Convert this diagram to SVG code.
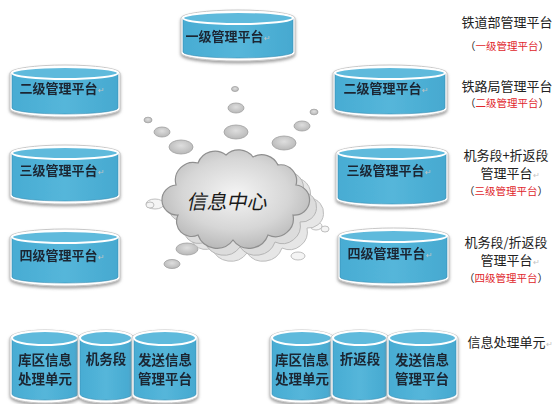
<svg xmlns="http://www.w3.org/2000/svg" width="559" height="404" viewBox="0 0 559 404">
  <defs>
    <filter id="shadow" x="-10%" y="-10%" width="120%" height="130%">
      <feDropShadow dx="0" dy="2" stdDeviation="1.5" flood-color="#7a7a7a" flood-opacity="0.7"/>
    </filter>
    <linearGradient id="bodyGrad" x1="0" y1="0" x2="1" y2="0">
      <stop offset="0" stop-color="#48acd3"/>
      <stop offset="0.5" stop-color="#55b6da"/>
      <stop offset="1" stop-color="#46a9d0"/>
    </linearGradient>
    <radialGradient id="cloudGrad" cx="0.5" cy="0.45" r="0.6">
      <stop offset="0" stop-color="#f4f4f4"/>
      <stop offset="0.6" stop-color="#d6d6d6"/>
      <stop offset="1" stop-color="#b4b4b4"/>
    </radialGradient>
    <radialGradient id="bubbleGrad" cx="0.5" cy="0.4" r="0.6">
      <stop offset="0" stop-color="#dedede"/>
      <stop offset="1" stop-color="#b8b8b8"/>
    </radialGradient>
  </defs>
  <style>
    .rim { fill: #ffffff; stroke: #c8c8c8; stroke-width: 1; }
    .body { fill: url(#bodyGrad); stroke: #3b8fb3; stroke-width: 0.6; }
    .top { fill: #5fbadc; stroke: #ffffff; stroke-width: 2; }
    .lbl { font-family: "Noto Sans CJK SC", "Noto Sans", sans-serif; font-weight: bold; font-size: 13px; fill: #1b2533; text-anchor: middle; }
    .lbl2 { font-family: "Noto Sans CJK SC", "Noto Sans", sans-serif; font-weight: bold; font-size: 13.5px; fill: #1b2533; text-anchor: middle; }
    .ret { fill: #c4c4c4; font-weight: normal; font-size: 8px; }
    .side { font-family: "Noto Sans CJK SC", "Noto Sans", sans-serif; font-size: 13px; fill: #222222; text-anchor: middle; }
    .red { font-family: "Noto Sans CJK SC", "Noto Sans", sans-serif; font-size: 10.5px; fill: #222222; text-anchor: middle; }
    .red tspan.r { fill: #e0262b; }
    .bub { fill: url(#bubbleGrad); stroke: #a0a0a0; stroke-width: 0.8; }
    .ring { fill: #f4f4f4; stroke: #b0b0b0; stroke-width: 0.8; }
  </style>

  <!-- connectors: bubble trails from the cloud towards the platforms -->
  <g id="connectors">
    <ellipse class="bub" cx="235" cy="89" rx="3.5" ry="2.5"/>
    <ellipse class="bub" cx="236" cy="108" rx="8" ry="5"/>
    <ellipse class="bub" cx="236" cy="132" rx="12" ry="7"/>
    <ellipse class="bub" cx="148" cy="120" rx="4" ry="2.8"/>
    <ellipse class="bub" cx="162" cy="132" rx="8" ry="5"/>
    <ellipse class="bub" cx="181" cy="147" rx="12" ry="7"/>
    <ellipse class="bub" cx="314" cy="112" rx="4" ry="2.8"/>
    <ellipse class="bub" cx="302" cy="126" rx="8" ry="5"/>
    <ellipse class="bub" cx="284" cy="143" rx="12" ry="7"/>
    <ellipse class="bub" cx="187" cy="249" rx="11" ry="6"/>
    <ellipse class="bub" cx="172" cy="264" rx="8" ry="4.5"/>
    <ellipse class="ring" cx="155" cy="204" rx="9" ry="5"/>
    <ellipse class="ring" cx="150" cy="205" rx="4" ry="3"/>
    <ellipse class="ring" cx="284" cy="239" rx="10" ry="5.5"/>
    <ellipse class="ring" cx="298" cy="256" rx="7" ry="4"/>
    <ellipse class="ring" cx="316" cy="226" rx="6" ry="4"/>
    <ellipse class="ring" cx="325" cy="229" rx="4" ry="3"/>
  </g>

  <!-- central cloud, three stacked layers -->
  <g id="cloud">
    <path d="M 192,228 A 15,15 0 0 1 190,198 A 18,18 0 0 1 212,176 A 18,18 0 0 1 240,168 A 18,18 0 0 1 267,170 A 18,18 0 0 1 292,178 A 16,16 0 0 1 310,198 A 15,15 0 0 1 307,228 A 18,18 0 0 1 282,248 A 20,20 0 0 1 247,253 A 20,20 0 0 1 212,248 A 15,15 0 0 1 192,228 Z" fill="#e6e6e6" stroke="#bdbdbd" stroke-width="1"/>
    <path d="M 185,222 A 15,15 0 0 1 183,192 A 18,18 0 0 1 205,170 A 18,18 0 0 1 233,162 A 18,18 0 0 1 260,164 A 18,18 0 0 1 285,172 A 16,16 0 0 1 303,192 A 15,15 0 0 1 300,222 A 18,18 0 0 1 275,242 A 20,20 0 0 1 240,247 A 20,20 0 0 1 205,242 A 15,15 0 0 1 185,222 Z" fill="#dcdcdc" stroke="#b5b5b5" stroke-width="1"/>
    <path d="M 178,215 A 15,15 0 0 1 176,185 A 18,18 0 0 1 198,163 A 18,18 0 0 1 226,155 A 18,18 0 0 1 253,157 A 18,18 0 0 1 278,165 A 16,16 0 0 1 296,185 A 15,15 0 0 1 293,215 A 18,18 0 0 1 268,235 A 20,20 0 0 1 233,240 A 20,20 0 0 1 198,235 A 15,15 0 0 1 178,215 Z" fill="url(#cloudGrad)" stroke="#8f8f8f" stroke-width="1.2"/>
    <text x="228" y="209" font-family="Noto Sans CJK SC, Noto Sans, sans-serif" font-size="20" fill="#1a1a1a" text-anchor="middle" transform="translate(228 202) skewX(-12) translate(-228 -202)">信息中心</text>
  </g>

  <!-- level 1 -->
  <g id="node-l1" filter="url(#shadow)">
    <path class="rim" d="M181,18 L181,53 A57,8 0 0 0 295,53 L295,18 A57,8 0 0 0 181,18 Z"/>
    <path class="body" d="M183,18 L183,52 A55,6 0 0 0 293,52 L293,18 Z"/>
    <ellipse class="top" cx="238" cy="18" rx="55" ry="6"/>
    <text class="lbl" x="228" y="41">一级管理平台<tspan class="ret">↵</tspan></text>
  </g>

  <!-- left column -->
  <g id="node-l2-left" filter="url(#shadow)">
    <path class="rim" d="M10,73 L10,109 A55,8 0 0 0 120,109 L120,73 A55,8 0 0 0 10,73 Z"/>
    <path class="body" d="M12,73 L12,108 A53,6 0 0 0 118,108 L118,73 Z"/>
    <ellipse class="top" cx="65" cy="73" rx="53" ry="6"/>
    <text class="lbl" x="62" y="93">二级管理平台<tspan class="ret">↵</tspan></text>
  </g>
  <g id="node-l3-left" filter="url(#shadow)">
    <path class="rim" d="M10,153 L10,196 A55,8 0 0 0 120,196 L120,153 A55,8 0 0 0 10,153 Z"/>
    <path class="body" d="M12,153 L12,195 A53,6 0 0 0 118,195 L118,153 Z"/>
    <ellipse class="top" cx="65" cy="153" rx="53" ry="6"/>
    <text class="lbl" x="62" y="175">三级管理平台<tspan class="ret">↵</tspan></text>
  </g>
  <g id="node-l4-left" filter="url(#shadow)">
    <path class="rim" d="M10,237 L10,278 A55,8 0 0 0 120,278 L120,237 A55,8 0 0 0 10,237 Z"/>
    <path class="body" d="M12,237 L12,277 A53,6 0 0 0 118,277 L118,237 Z"/>
    <ellipse class="top" cx="65" cy="237" rx="53" ry="6"/>
    <text class="lbl" x="62" y="260">四级管理平台<tspan class="ret">↵</tspan></text>
  </g>

  <!-- right column -->
  <g id="node-l2-right" filter="url(#shadow)">
    <path class="rim" d="M333,73 L333,109 A57,8 0 0 0 447,109 L447,73 A57,8 0 0 0 333,73 Z"/>
    <path class="body" d="M335,73 L335,108 A55,6 0 0 0 445,108 L445,73 Z"/>
    <ellipse class="top" cx="390" cy="73" rx="55" ry="6"/>
    <text class="lbl" x="386" y="93">二级管理平台<tspan class="ret">↵</tspan></text>
  </g>
  <g id="node-l3-right" filter="url(#shadow)">
    <path class="rim" d="M336,153 L336,199 A56,8 0 0 0 448,199 L448,153 A56,8 0 0 0 336,153 Z"/>
    <path class="body" d="M338,153 L338,198 A54,6 0 0 0 446,198 L446,153 Z"/>
    <ellipse class="top" cx="392" cy="153" rx="54" ry="6"/>
    <text class="lbl" x="389" y="175">三级管理平台<tspan class="ret">↵</tspan></text>
  </g>
  <g id="node-l4-right" filter="url(#shadow)">
    <path class="rim" d="M338,236 L338,278 A55.5,8 0 0 0 449,278 L449,236 A55.5,8 0 0 0 338,236 Z"/>
    <path class="body" d="M340,236 L340,277 A53.5,6 0 0 0 447,277 L447,236 Z"/>
    <ellipse class="top" cx="393.5" cy="236" rx="53.5" ry="6"/>
    <text class="lbl" x="390" y="258">四级管理平台<tspan class="ret">↵</tspan></text>
  </g>

  <!-- bottom left cluster -->
  <g id="node-kuqu-left" filter="url(#shadow)">
    <path class="rim" d="M10,338 L10,395 A35,8 0 0 0 80,395 L80,338 A35,8 0 0 0 10,338 Z"/>
    <path class="body" d="M12,338 L12,394 A33,6 0 0 0 78,394 L78,338 Z"/>
    <ellipse class="top" cx="45" cy="338" rx="33" ry="7"/>
    <text class="lbl2" x="45" y="365">库区信息</text>
    <text class="lbl2" x="45" y="384">处理单元</text>
  </g>
  <g id="node-jiwu" filter="url(#shadow)">
    <path class="rim" d="M78,338 L78,395 A28,8 0 0 0 134,395 L134,338 A28,8 0 0 0 78,338 Z"/>
    <path class="body" d="M80,338 L80,394 A26,6 0 0 0 132,394 L132,338 Z"/>
    <ellipse class="top" cx="106" cy="338" rx="26" ry="7"/>
    <text class="lbl2" x="106" y="364">机务段</text>
  </g>
  <g id="node-fasong-left" filter="url(#shadow)">
    <path class="rim" d="M132,338 L132,395 A33,8 0 0 0 198,395 L198,338 A33,8 0 0 0 132,338 Z"/>
    <path class="body" d="M134,338 L134,394 A31,6 0 0 0 196,394 L196,338 Z"/>
    <ellipse class="top" cx="165" cy="338" rx="31" ry="7"/>
    <text class="lbl2" x="165" y="365">发送信息</text>
    <text class="lbl2" x="165" y="384">管理平台</text>
  </g>

  <!-- bottom right cluster -->
  <g id="node-kuqu-right" filter="url(#shadow)">
    <path class="rim" d="M270,338 L270,395 A32,8 0 0 0 334,395 L334,338 A32,8 0 0 0 270,338 Z"/>
    <path class="body" d="M272,338 L272,394 A30,6 0 0 0 332,394 L332,338 Z"/>
    <ellipse class="top" cx="302" cy="338" rx="30" ry="7"/>
    <text class="lbl2" x="302" y="365">库区信息</text>
    <text class="lbl2" x="302" y="384">处理单元</text>
  </g>
  <g id="node-zhefan" filter="url(#shadow)">
    <path class="rim" d="M331,338 L331,395 A29,8 0 0 0 389,395 L389,338 A29,8 0 0 0 331,338 Z"/>
    <path class="body" d="M333,338 L333,394 A27,6 0 0 0 387,394 L387,338 Z"/>
    <ellipse class="top" cx="360" cy="338" rx="27" ry="7"/>
    <text class="lbl2" x="360" y="364">折返段</text>
  </g>
  <g id="node-fasong-right" filter="url(#shadow)">
    <path class="rim" d="M387,338 L387,395 A35.5,8 0 0 0 458,395 L458,338 A35.5,8 0 0 0 387,338 Z"/>
    <path class="body" d="M389,338 L389,394 A33.5,6 0 0 0 456,394 L456,338 Z"/>
    <ellipse class="top" cx="422.5" cy="338" rx="33.5" ry="7"/>
    <text class="lbl2" x="422" y="365">发送信息</text>
    <text class="lbl2" x="422" y="384">管理平台</text>
  </g>

  <!-- side captions -->
  <g id="caption-l1">
    <text class="side" x="507" y="27">铁道部管理平台</text>
    <text class="red" x="507" y="50">（<tspan class="r">一级管理平台</tspan>）</text>
  </g>
  <g id="caption-l2">
    <text class="side" x="507" y="91">铁路局管理平台</text>
    <text class="red" x="507" y="107">（<tspan class="r">二级管理平台</tspan>）</text>
  </g>
  <g id="caption-l3">
    <text class="side" x="506" y="160">机务段+折返段</text>
    <text class="side" x="510" y="178">管理平台<tspan class="ret">↵</tspan></text>
    <text class="red" x="506" y="195">（<tspan class="r">三级管理平台</tspan>）</text>
  </g>
  <g id="caption-l4">
    <text class="side" x="506" y="247">机务段/折返段</text>
    <text class="side" x="510" y="265">管理平台<tspan class="ret">↵</tspan></text>
    <text class="red" x="506" y="282">（<tspan class="r">四级管理平台</tspan>）</text>
  </g>
  <g id="caption-unit">
    <text class="side" x="510" y="347">信息处理单元<tspan class="ret">↵</tspan></text>
  </g>
</svg>
